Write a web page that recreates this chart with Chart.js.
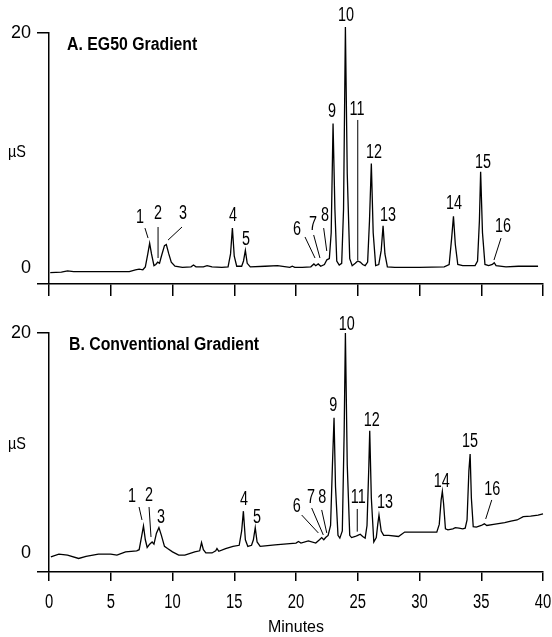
<!DOCTYPE html>
<html><head><meta charset="utf-8">
<script src="https://cdn.jsdelivr.net/npm/chart.js@4.4.1/dist/chart.umd.min.js"></script>
<style>
html,body{margin:0;padding:0;background:#fff;width:552px;height:637px;overflow:hidden}
canvas{position:absolute;left:0}
#a{top:0}#b{top:300px}
</style></head><body>
<canvas id="a" width="552" height="300"></canvas>
<canvas id="b" width="552" height="337"></canvas>
<script>
// ---- Data (minutes, µS) ----
const xTicks = [0,5,10,15,20,25,30,35,40];
const yTickLabels = [0,20];

const timeA = [0.1,1.0,1.5,2.0,4.0,6.5,7.0,7.3,7.6,7.8,8.0,8.15,8.3,8.5,8.65,8.8,8.95,9.1,9.35,9.5,9.7,9.9,10.2,10.8,11.5,11.7,11.9,12.5,12.8,13.2,14.0,14.5,14.7,14.85,15.0,15.2,15.6,15.75,15.9,16.05,16.3,17.5,18.5,19.5,19.7,19.9,20.5,21.2,21.45,21.6,21.8,22.0,22.3,22.5,22.7,22.85,23.0,23.15,23.3,23.5,23.7,23.85,24.0,24.15,24.35,24.55,24.8,25.0,25.2,25.4,25.6,25.8,25.95,26.1,26.25,26.45,26.7,26.9,27.05,27.2,27.4,28.0,30.0,32.0,32.4,32.6,32.75,32.9,33.1,33.5,34.5,34.7,34.85,34.95,35.1,35.3,35.6,35.9,36.05,36.2,37.0,38.0,39.6];
const signalA = [-0.4,-0.35,-0.25,-0.3,-0.3,-0.3,-0.15,-0.1,-0.15,0.1,1.2,2.1,1.2,0.2,0.3,0.5,0.4,1.0,1.9,2.0,1.2,0.5,0.15,0.05,0.1,0.25,0.1,0.1,0.2,0.1,0.05,0.1,1.2,3.4,1.0,0.15,0.15,0.6,1.5,0.4,0.1,0.15,0.2,0.05,0.15,0.05,0.05,0.1,0.35,0.2,0.35,0.15,0.3,0.7,0.8,3.0,12.3,5.0,0.6,0.25,0.4,5.0,20.5,8.0,0.8,0.2,0.4,0.6,0.5,0.3,0.2,0.5,4.0,8.9,3.0,0.2,0.3,1.5,3.6,1.2,0.1,0.05,0.05,0.1,0.3,2.5,4.4,2.0,0.3,0.2,0.2,0.6,4.0,8.2,3.0,0.3,0.2,0.3,0.45,0.2,0.1,0.15,0.15];

const timeB = [0.15,0.8,1.5,2.4,3.0,4.0,5.0,5.5,6.2,7.1,7.3,7.5,7.65,7.8,7.95,8.15,8.35,8.5,8.7,8.9,9.1,9.35,9.6,10.0,10.5,11.0,11.8,12.2,12.35,12.5,12.7,13.2,13.5,13.6,13.75,14.3,14.9,15.4,15.6,15.74,15.9,16.1,16.4,16.55,16.7,16.85,17.1,17.5,18.3,19.5,20.0,20.2,20.4,21.0,21.6,21.9,22.08,22.25,22.4,22.6,22.8,22.95,23.08,23.2,23.4,23.55,23.75,23.9,24.0,24.15,24.35,24.5,24.8,25.0,25.2,25.4,25.6,25.75,25.9,25.97,26.1,26.3,26.5,26.62,26.72,26.9,27.1,27.5,28.3,28.8,31.0,31.4,31.6,31.75,31.85,31.95,32.1,32.3,32.7,32.9,33.2,33.5,33.7,33.85,34.0,34.1,34.2,34.35,34.6,35.0,35.25,35.45,36.0,36.9,37.4,37.9,38.4,39.0,39.6,40.0];
const signalB = [-0.36,-0.1,-0.2,-0.5,-0.3,-0.1,-0.1,-0.2,0.1,0.2,0.3,1.5,2.45,1.2,0.5,0.8,1.0,0.8,1.8,2.3,1.6,0.6,0.4,0.1,-0.2,-0.2,0.1,0.2,0.95,0.3,0.0,0.0,0.2,0.4,0.15,0.4,0.6,0.7,2.0,3.8,1.2,0.6,0.7,1.2,2.3,1.0,0.6,0.64,0.73,0.85,0.9,1.05,0.9,1.1,0.9,1.2,1.4,1.2,1.4,1.6,2.5,8.0,12.3,6.0,1.6,1.35,2.0,11.0,20.0,8.0,1.6,1.4,1.5,1.6,1.7,1.5,1.35,2.5,8.0,11.1,5.0,1.0,1.4,2.6,3.45,2.0,1.6,1.6,1.5,1.9,1.9,1.9,2.6,4.8,5.6,4.5,2.2,2.1,2.2,2.3,2.25,2.2,2.25,3.0,7.5,9.0,5.0,2.4,2.35,2.5,2.65,2.5,2.6,2.75,2.9,3.0,3.3,3.35,3.45,3.55];

// peak label: [text, t, µS] and optional leader [t1, v1, t2, v2]
const peakLabelsA = [
  ['1',7.37,4.34,[7.77,3.40,8.02,2.55]],
  ['2',8.83,4.68,[8.83,3.49,8.83,0.85]],
  ['3',10.85,4.68,[10.77,3.49,9.64,2.38]],
  ['4',14.9,4.51],
  ['5',15.95,2.47],
  ['6',20.08,3.32,[20.73,2.64,21.54,0.85]],
  ['7',21.38,3.74,[21.43,2.81,21.94,0.85]],
  ['8',22.35,4.51,[22.24,3.40,22.49,1.45]],
  ['9',22.91,13.28],
  ['10',24.05,21.53],
  ['11',24.94,13.53,[25.0,12.6,25.0,0.68]],
  ['12',26.32,9.87],
  ['13',27.45,4.51],
  ['14',32.79,5.53],
  ['15',35.14,9.02],
  ['16',36.76,3.57,[36.6,2.55,36.03,0.68]]
];
const peakLabelsB = [
  ['1',6.72,5.18,[7.29,4.18,7.53,3.0]],
  ['2',8.10,5.27,[8.10,4.18,8.26,1.45]],
  ['3',9.07,3.27],
  ['4',15.79,4.82],
  ['5',16.84,3.27],
  ['6',20.06,4.21,[20.46,3.45,21.81,1.82]],
  ['7',21.21,5.09,[21.27,4.09,22.21,1.64]],
  ['8',22.13,5.09,[22.08,3.91,22.49,1.82]],
  ['9',23.02,13.45],
  ['10',24.1,20.8],
  ['11',25.04,5.09,[24.96,4.0,24.96,1.94]],
  ['12',26.13,12.03],
  ['13',27.21,4.57],
  ['14',31.8,6.48],
  ['15',34.09,10.12],
  ['16',35.89,5.79,[35.85,4.82,35.36,3.09]]
];
const titleA = 'A. EG50 Gradient';
const titleB = 'B. Conventional Gradient';
const unitLabel = 'µS';
const xTitle = 'Minutes';

// ---- Drawing ----
const FONT = "'Liberation Sans','Helvetica','Arial',sans-serif";

function condText(ctx, str, px, py, sx, align) {
  ctx.save();
  ctx.translate(px, py);
  ctx.scale(sx, 1);
  ctx.textAlign = align;
  ctx.fillText(str, 0, 0);
  ctx.restore();
}

const annot = {
  id: 'annot',
  afterDatasetsDraw(chart, args, opts) {
    const {ctx, scales:{x, y}, chartArea} = chart;
    ctx.save();
    ctx.fillStyle = '#000'; ctx.strokeStyle = '#000';
    ctx.textBaseline = 'middle';
    ctx.lineWidth = 1;
    ctx.font = `20px ${FONT}`;
    opts.items.forEach(it => {
      condText(ctx, it[0], x.getPixelForValue(it[1]), y.getPixelForValue(it[2]), 0.72, 'center');
      if (it[3]) {
        const l = it[3];
        ctx.beginPath();
        ctx.moveTo(x.getPixelForValue(l[0]), y.getPixelForValue(l[1]));
        ctx.lineTo(x.getPixelForValue(l[2]), y.getPixelForValue(l[3]));
        ctx.stroke();
      }
    });
    // x tick labels (bottom panel only), from the scale's own ticks
    if (opts.showX) {
      x.ticks.forEach(t => {
        condText(ctx, String(t.value), x.getPixelForValue(t.value), chartArea.bottom + 30, 0.74, 'center');
      });
    }
    ctx.font = `bold 18px ${FONT}`;
    condText(ctx, opts.title, x.getPixelForValue(opts.titlePos[0]), y.getPixelForValue(opts.titlePos[1]), 0.88, 'left');
    ctx.font = `17px ${FONT}`;
    condText(ctx, unitLabel, chartArea.left - 32, y.getPixelForValue(9.85), 0.85, 'center');
    ctx.restore();
  }
};

function makeChart(id, times, signal, yMin, labels, title, titlePos, bottom) {
  const data = times.map((t, i) => ({x: t, y: signal[i]}));
  return new Chart(document.getElementById(id), {
    type: 'line',
    data: { datasets: [{ data, borderColor: '#000', borderWidth: 1.3, pointRadius: 0, tension: 0, fill: false, clip: false }] },
    plugins: [annot],
    options: {
      responsive: false, animation: false, devicePixelRatio: 1,
      layout: { padding: { left: 0, right: 9, top: 33, bottom: 0 } },
      plugins: { legend: {display: false}, tooltip: {enabled: false},
        annot: { items: labels, title, titlePos, showX: bottom } },
      scales: {
        x: {
          type: 'linear', min: 0, max: 40,
          afterBuildTicks: s => { s.ticks = xTicks.map(v => ({value: v})); },
          afterFit: s => { s.height = bottom ? 65 : 16; s.paddingLeft = 0; s.paddingRight = 0; },
          border: { display: true, color: '#000', width: 1.5 },
          grid: { drawOnChartArea: false, drawTicks: true, tickLength: bottom ? 9 : 12, color: '#000', lineWidth: 1.5 },
          ticks: { display: false },
          title: { display: bottom, text: xTitle, color: '#000', font: { family: FONT, size: 16 }, padding: { top: 0, bottom: 0 } }
        },
        y: {
          min: yMin, max: 20,
          afterBuildTicks: s => { s.ticks = [{value: yMin}].concat(yTickLabels.map(v => ({value: v}))); },
          afterFit: s => { s.width = 49; s.paddingTop = 0; s.paddingBottom = 0; },
          border: { display: true, color: '#000', width: 1.5 },
          grid: { drawOnChartArea: false, drawTicks: true, tickLength: 12, lineWidth: 1.5,
                  color: c => (c.tick && c.tick.value === 0) ? 'rgba(0,0,0,0)' : '#000' },
          ticks: { color: '#000', font: { family: FONT, size: 18 }, padding: 6,
                   callback: v => yTickLabels.includes(v) ? String(v) : '' }
        }
      }
    }
  });
}

makeChart('a', timeA, signalA, -1.36, peakLabelsA, titleA, [1.46, 18.98], false);
makeChart('b', timeB, signalB, -1.73, peakLabelsB, titleB, [1.62, 18.9], true);
</script>
</body></html>
